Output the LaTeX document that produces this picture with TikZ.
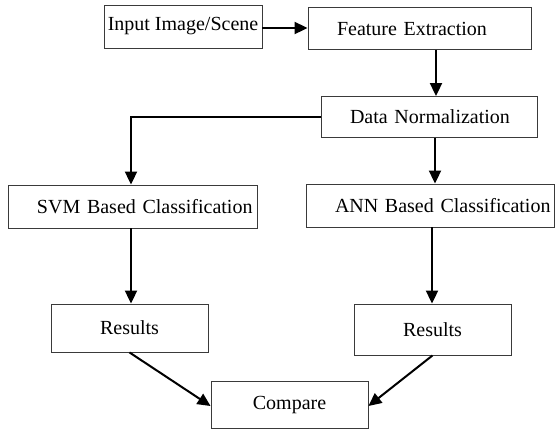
\documentclass[tikz,border=0pt]{standalone}
\usepackage{fontspec}
\setmainfont{Liberation Serif}
\usepackage{tikz}
\usetikzlibrary{arrows.meta,positioning,calc}
\definecolor{Edge}{HTML}{3A3A3A}

\begin{document}
\begin{tikzpicture}[x=1bp,y=-1bp,
box/.style={draw=Edge,line width=0.9bp,font=\fontsize{20bp}{24bp}\selectfont,inner sep=0pt},
stage/.style={box,align=left,text width=#1,execute at begin node={\hspace*{29bp}}},
flow/.style={-{Triangle[length=13bp,width=12bp]},line width=2bp,draw=black}]
\useasboundingbox (0,0) rectangle (555,432);
\node[box,minimum width=158bp,minimum height=43bp] (inp) at (183,26.5) {Input Image/Scene};
\node[stage=223bp,minimum height=42bp] (fe) at (419.5,28.5) {Feature Extraction};
\node[stage=216bp,minimum height=41bp] (dn) at (429,117) {Data Normalization};
\node[stage=249bp,minimum height=43bp] (svm) at (132.5,206.5) {SVM Based Classification};
\node[stage=248bp,minimum height=43bp] (ann) at (430,205.5) {ANN Based Classification};
\node[box,minimum width=157bp,minimum height=48bp] (resL) at (129.5,328) {Results};
\node[box,minimum width=157bp,minimum height=51bp] (resR) at (432.5,329.5) {Results};
\node[box,minimum width=157bp,minimum height=47bp] (cmp) at (289.5,404.5) {Compare};
\draw[flow] ([yshift=-1.5bp]inp.east) -- ([yshift=-1.5bp]inp.east -| fe.west);
\draw[flow] ([xshift=16.5bp]fe.south) -- ([xshift=16.5bp]fe.south |- dn.north);
\draw[flow] (dn.west) -| ([xshift=-1.5bp]svm.north);
\draw[flow] ([xshift=6bp]dn.south) -- ([xshift=6bp]dn.south |- ann.north);
\draw[flow] ([xshift=-1.5bp]svm.south) -- ([xshift=-1.5bp]svm.south |- resL.north);
\draw[flow] ([xshift=2bp]ann.south) -- ([xshift=2bp]ann.south |- resR.north);
\draw[flow] (resL.south) -- ([yshift=-1.5bp]cmp.west);
\draw[flow] (resR.south) -- ([yshift=-1.5bp]cmp.east);
\end{tikzpicture}
\end{document}
